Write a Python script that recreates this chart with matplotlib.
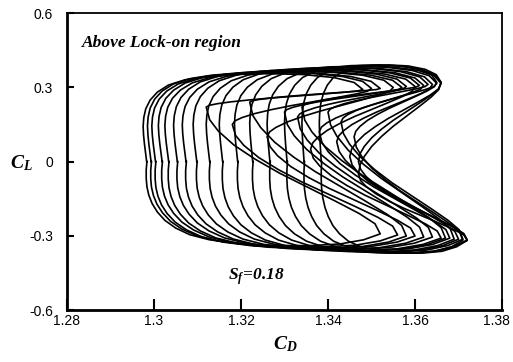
import matplotlib
matplotlib.use("Agg")
import matplotlib.pyplot as plt
from matplotlib.transforms import ScaledTranslation

plt.rcParams['mathtext.fontset'] = 'custom'
plt.rcParams['mathtext.rm'] = 'Liberation Serif:bold:italic'
plt.rcParams['mathtext.it'] = 'Liberation Serif:bold:italic'

# shape of one cycle, as (frac, v) pairs
# outer edges: frac 0 = back of the cycle, 1 = tip ; v = fraction of the peak |CL|
outer_up = [(0.016, 0.00), (0.011, 0.10), (0.006, 0.20), (0.002, 0.30), (0.000, 0.40),
            (0.003, 0.50), (0.012, 0.60), (0.032, 0.70), (0.065, 0.79), (0.115, 0.87),
            (0.190, 0.93), (0.290, 0.97), (0.420, 0.993), (0.580, 1.00), (0.730, 0.99),
            (0.870, 0.955), (0.960, 0.90), (1.000, 0.82)]
outer_lo = [(0.016, 0.00), (0.013, 0.10), (0.013, 0.20), (0.016, 0.30), (0.024, 0.40),
            (0.038, 0.50), (0.060, 0.60), (0.092, 0.70), (0.137, 0.79), (0.197, 0.87),
            (0.280, 0.93), (0.400, 0.975), (0.550, 0.997), (0.700, 1.00), (0.830, 0.98),
            (0.930, 0.93), (1.000, 0.86)]
tip_v_up = 0.82
tip_v_lo = 0.86
# inner edge: frac 0 = notch, 1 = tip ; v = 0 at the notch, 1 at the tip
inner = [(0.97, 0.92), (0.88, 0.84), (0.74, 0.74), (0.58, 0.63), (0.42, 0.52),
         (0.28, 0.41), (0.16, 0.30), (0.07, 0.19), (0.02, 0.10), (0.00, 0.00)]

# one entry per cycle: CD of back, notch, upper tip, lower tip; CL of notch and peaks
backs    = [1.2975, 1.2985, 1.2995, 1.3010, 1.3025, 1.3045, 1.3065, 1.3090,
            1.3120, 1.3150, 1.3185, 1.3220, 1.3260, 1.3300, 1.3340, 1.3380]
notches  = [1.3120, 1.3180, 1.3220, 1.3260, 1.3300, 1.3330, 1.3360, 1.3340,
            1.3380, 1.3400, 1.3420, 1.3430, 1.3450, 1.3470, 1.3460, 1.3470]
notch_cl = [0.22, 0.15, 0.24, 0.10, 0.20, 0.18, 0.05, 0.22,
            0.12, 0.20, 0.08, 0.16, 0.02, 0.00, 0.10, -0.05]
tips_up  = [1.3480, 1.3500, 1.3520, 1.3550, 1.3570, 1.3580, 1.3600, 1.3610,
            1.3620, 1.3630, 1.3640, 1.3650, 1.3660, 1.3660, 1.3650, 1.3660]
tips_lo  = [1.3520, 1.3560, 1.3580, 1.3600, 1.3620, 1.3640, 1.3660, 1.3670,
            1.3680, 1.3690, 1.3700, 1.3710, 1.3720, 1.3720, 1.3710, 1.3720]
amps_up  = [0.355, 0.36, 0.36, 0.365, 0.365, 0.37, 0.37, 0.375,
            0.375, 0.38, 0.38, 0.385, 0.385, 0.39, 0.39, 0.39]
amps_lo  = [0.34, 0.345, 0.35, 0.35, 0.355, 0.355, 0.36, 0.36,
            0.36, 0.365, 0.365, 0.365, 0.37, 0.37, 0.37, 0.37]

fig = plt.figure(figsize=(5.13, 3.62), dpi=100)
ax = fig.add_axes([0.1306, 0.1436, 0.8480, 0.8204])

for b, n, nc, tu, tl, au, al in zip(backs, notches, notch_cl, tips_up, tips_lo, amps_up, amps_lo):
    xs, ys = [], []
    # back -> top -> upper tip
    for f, v in outer_up:
        xs.append(b + f * (tu - b)); ys.append(v * au)
    # upper tip -> notch
    for f, v in inner:
        xs.append(n + f * (tu - n)); ys.append(nc + v * (tip_v_up * au - nc))
    # notch -> lower tip
    for f, v in inner[::-1]:
        xs.append(n + f * (tl - n)); ys.append(nc - v * (tip_v_lo * al + nc))
    # lower tip -> bottom -> back
    for f, v in outer_lo[::-1]:
        xs.append(b + f * (tl - b)); ys.append(-v * al)
    ax.plot(xs, ys, color='black', lw=1.2, solid_joinstyle='round')

ax.set_xlim(1.28, 1.38)
ax.set_ylim(-0.6, 0.6)
ax.set_xticks([1.28, 1.30, 1.32, 1.34, 1.36, 1.38])
ax.set_xticklabels(['1.28', '1.3', '1.32', '1.34', '1.36', ''])
ax.set_yticks([-0.6, -0.3, 0, 0.3, 0.6])
ax.set_yticklabels(['-0.6', '-0.3', '0', '0.3', '0.6'])
for lab in ax.get_xticklabels() + ax.get_yticklabels():
    lab.set_fontfamily('Liberation Sans')
    lab.set_fontsize(10)
# last x label sits right at the figure edge
ax.text(1.38, 0, '1.38', fontfamily='Liberation Sans', fontsize=10, ha='right', va='top',
        transform=ax.get_xaxis_transform() + ScaledTranslation(5.5 / 72, -3 / 72, fig.dpi_scale_trans))
ax.tick_params(axis='x', direction='in', length=8, width=1.5, pad=3)
ax.tick_params(axis='y', direction='in', length=5, width=1.5, pad=10)
ax.spines['left'].set_linewidth(2)
ax.spines['bottom'].set_linewidth(2)
ax.spines['top'].set_linewidth(1.3)
ax.spines['right'].set_linewidth(1.3)

ax.text(1.2835, 0.479, 'Above Lock-on region', fontfamily='Liberation Serif',
        fontweight='bold', fontstyle='italic', fontsize=12.5, va='center')
ax.text(1.317, -0.467, r'$S_f\!=\!0.18$', fontsize=12.5, va='center')
fig.text(0.02, 0.55, r'$C_L$', fontsize=14, va='center')
fig.text(0.556, 0.05, r'$C_D$', fontsize=14, ha='center', va='center')

fig.savefig('out.png', dpi=100)
